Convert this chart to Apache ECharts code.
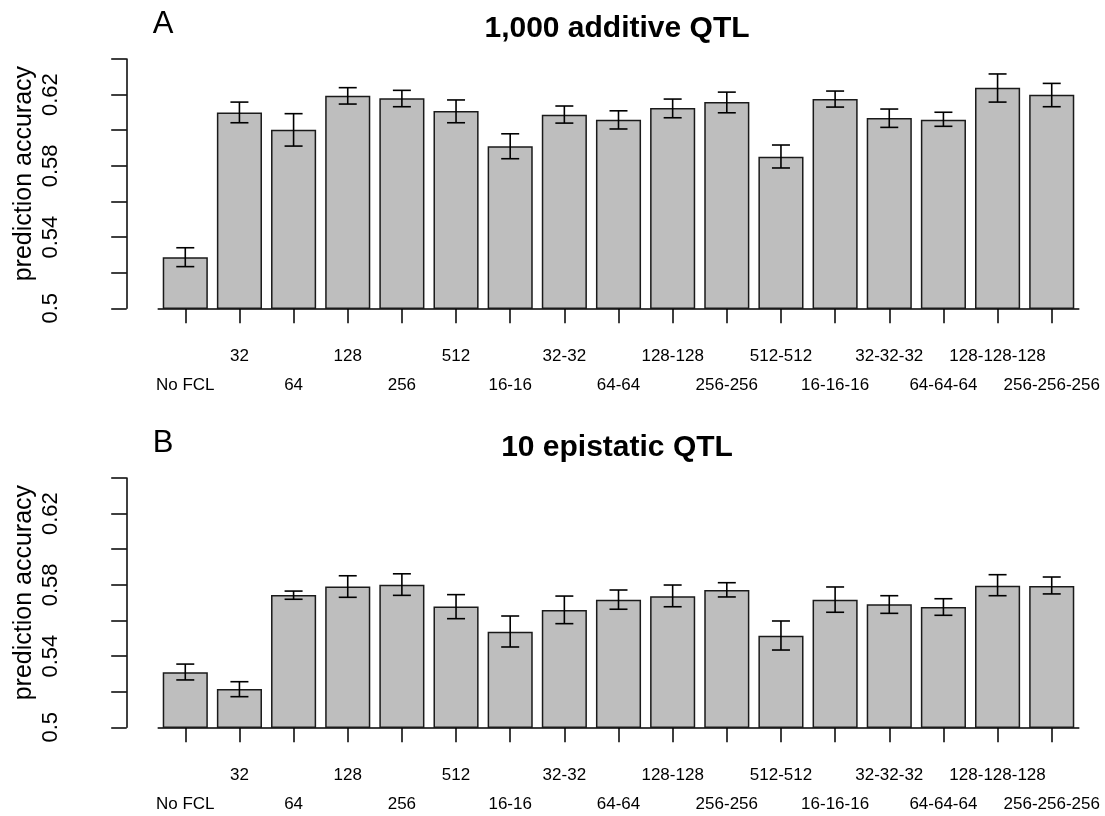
<!DOCTYPE html>
<html>
<head>
<meta charset="utf-8">
<script src="https://cdn.jsdelivr.net/npm/echarts@6/dist/echarts.min.js"></script>
<style>html,body{margin:0;padding:0;background:#fff}#c{width:1105px;height:816px}</style>
</head>
<body>
<div id="c"></div>
<script>
// ---------- data ----------
const categories = ['No FCL','32','64','128','256','512','16-16','32-32','64-64','128-128','256-256','512-512','16-16-16','32-32-32','64-64-64','128-128-128','256-256-256'];

const meanA = [0.5286,0.6100,0.6003,0.6194,0.6179,0.6108,0.5910,0.6087,0.6059,0.6125,0.6158,0.5851,0.6175,0.6068,0.6059,0.6239,0.6199];
const highA = [0.5340,0.6158,0.6093,0.6239,0.6224,0.6170,0.5980,0.6136,0.6109,0.6175,0.6214,0.5917,0.6220,0.6119,0.6101,0.6316,0.6263];
const lowA  = [0.5234,0.6042,0.5911,0.6147,0.6132,0.6042,0.5840,0.6040,0.6007,0.6070,0.6098,0.5788,0.6130,0.6016,0.6022,0.6158,0.6132];

const meanB = [0.5309,0.5215,0.5743,0.5790,0.5801,0.5679,0.5537,0.5659,0.5716,0.5736,0.5771,0.5514,0.5716,0.5691,0.5675,0.5795,0.5793];
const highB = [0.5355,0.5256,0.5765,0.5851,0.5862,0.5745,0.5625,0.5737,0.5771,0.5799,0.5812,0.5597,0.5788,0.5739,0.5722,0.5857,0.5844];
const lowB  = [0.5266,0.5172,0.5719,0.5730,0.5741,0.5610,0.5451,0.5582,0.5663,0.5677,0.5732,0.5434,0.5646,0.5640,0.5629,0.5739,0.5749];

const yTickValues = [0.50,0.52,0.54,0.56,0.58,0.60,0.62,0.64];
const yTickLabels = ['0.5','','0.54','','0.58','','0.62',''];

const panelTitles = ['1,000 additive QTL','10 epistatic QTL'];
const panelLetters = ['A','B'];
const yAxisTitle = 'prediction accuracy';

// ---------- chart ----------
const FONT = "'Liberation Sans', Arial, sans-serif";
const gridTops = [59, 478];
const gridH = 249.3;
const gridLeft = 158.2;
const gridW = 920.6;

function yLabel(v){
  let best = 0, d = 1e9;
  yTickValues.forEach((t,i)=>{ const dd=Math.abs(t-v); if(dd<d){d=dd;best=i;} });
  return yTickLabels[best];
}

function errRender(params, api){
  const i = api.value(0);
  const lo = api.coord([i, api.value(1)]);
  const hi = api.coord([i, api.value(2)]);
  const w = 9;
  const st = {stroke:'#000', lineWidth:1.6};
  return {type:'group', children:[
    {type:'line', shape:{x1:lo[0],y1:lo[1],x2:hi[0],y2:hi[1]}, style:st},
    {type:'line', shape:{x1:lo[0]-w,y1:lo[1],x2:lo[0]+w,y2:lo[1]}, style:st},
    {type:'line', shape:{x1:hi[0]-w,y1:hi[1],x2:hi[0]+w,y2:hi[1]}, style:st}
  ]};
}

const grids = [], xAxes = [], yAxes = [], series = [], titles = [];
const means = [meanA, meanB], lows = [lowA, lowB], highs = [highA, highB];

for (let p = 0; p < 2; p++) {
  grids.push({left: gridLeft, top: gridTops[p], width: gridW, height: gridH, containLabel: false, outerBoundsMode: 'none'});
  xAxes.push({
    type:'category', gridIndex:p, data:categories, boundaryGap:true,
    axisLine:{show:true, lineStyle:{color:'#000', width:1.5}},
    axisTick:{show:true, alignWithLabel:true, interval:0, length:15, lineStyle:{color:'#000', width:1.5}},
    axisLabel:{interval:(i)=> i%2===1, margin:40, color:'#000', fontSize:17, fontFamily:FONT},
    splitLine:{show:false}
  });
  xAxes.push({
    type:'category', gridIndex:p, data:categories, boundaryGap:true, position:'bottom',
    axisLine:{show:false}, axisTick:{show:false},
    axisLabel:{interval:(i)=> i%2===0, margin:68.5, color:'#000', fontSize:17, fontFamily:FONT},
    splitLine:{show:false}
  });
  yAxes.push({
    type:'value', gridIndex:p, min:0.5, max:0.64, interval:0.02, offset:31.5,
    axisLine:{show:true, lineStyle:{color:'#000', width:1.5}},
    axisTick:{show:true, length:15.5, lineStyle:{color:'#000', width:1.5}},
    axisLabel:{rotate:90, margin:65, color:'#000', fontSize:22, fontFamily:FONT, formatter:yLabel},
    splitLine:{show:false},
    name:yAxisTitle, nameLocation:'middle', nameGap:90, nameRotate:90, nameMoveOverlap:false,
    nameTextStyle:{color:'#000', fontSize:25, fontFamily:FONT, padding:[0,0,0,20]}
  });
  series.push({
    type:'bar', xAxisIndex:2*p, yAxisIndex:p, data:means[p], barCategoryGap:'16.7%',
    itemStyle:{color:'#BEBEBE', borderColor:'#1a1a1a', borderWidth:1.5},
    silent:true, animation:false
  });
  series.push({
    type:'custom', xAxisIndex:2*p, yAxisIndex:p, renderItem:errRender,
    data: categories.map((c,i)=>[i, lows[p][i], highs[p][i]]),
    encode:{x:0, y:[1,2]}, z:5, silent:true, animation:false
  });
  titles.push({text:panelTitles[p], left:617, textAlign:'center', top:gridTops[p]-45, padding:0,
    textStyle:{fontSize:30, fontWeight:'bold', color:'#000', fontFamily:FONT}});
  titles.push({text:panelLetters[p], left:163, textAlign:'center', top:gridTops[p]-50, padding:0,
    textStyle:{fontSize:31, fontWeight:'normal', color:'#000', fontFamily:FONT}});
}

const chart = echarts.init(document.getElementById('c'), null, {renderer:'canvas'});
chart.setOption({
  animation:false,
  backgroundColor:'#fff',
  textStyle:{fontFamily:FONT},
  title:titles, grid:grids, xAxis:xAxes, yAxis:yAxes, series:series
});
</script>
</body>
</html>
